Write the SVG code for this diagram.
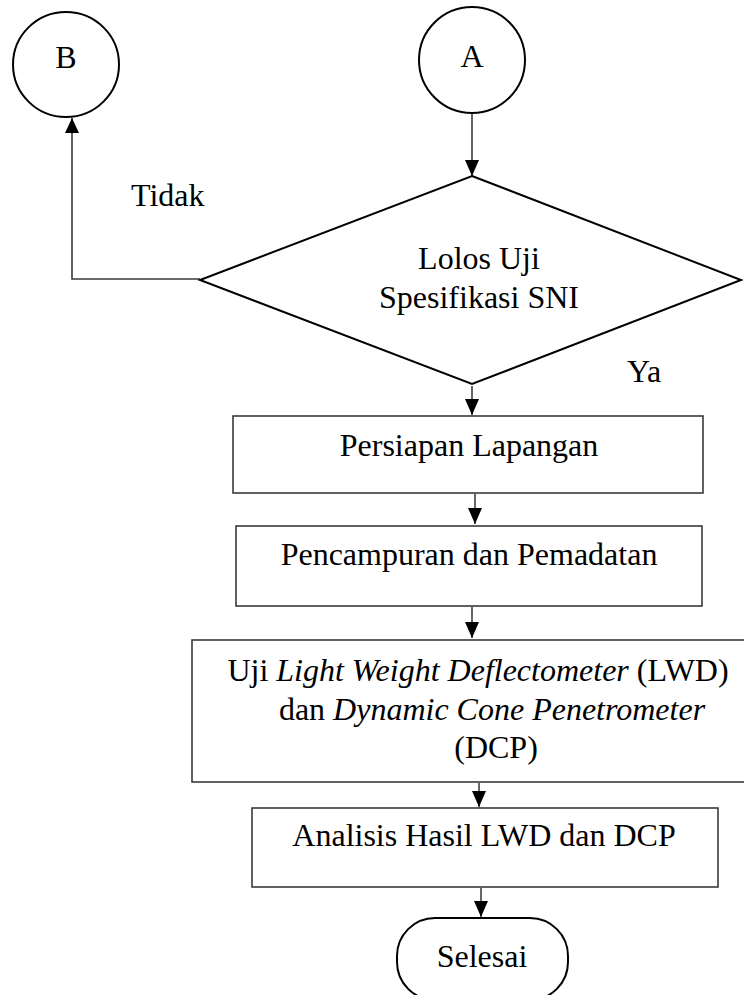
<svg xmlns="http://www.w3.org/2000/svg" width="744" height="995" viewBox="0 0 744 995">
  <style>
    .t { font-family: "Liberation Serif", "Times New Roman", serif; font-size: 32px; fill: #000; }
    .i { font-style: italic; }
    .shape { fill: #fff; stroke: #000; stroke-width: 2; }
    .box { fill: #fff; stroke: #3a3a3a; stroke-width: 1.6; }
    .conn { fill: none; stroke: #000; stroke-width: 1.2; }
    .conn2 { fill: none; stroke: #3a3a3a; stroke-width: 1.6; }
  </style>
  <defs>
    <marker id="arr" markerUnits="userSpaceOnUse" markerWidth="14" markerHeight="16" viewBox="0 0 14 16" refX="7" refY="16" orient="0">
      <path d="M0,0 L14,0 L7,16 Z" fill="#000"/>
    </marker>
    <marker id="arrUp" markerUnits="userSpaceOnUse" markerWidth="14" markerHeight="15" viewBox="0 0 14 15" refX="7" refY="0" orient="0">
      <path d="M7,0 L14,15 L0,15 Z" fill="#000"/>
    </marker>
  </defs>

  <g id="connectors">
    <line class="conn" x1="472" y1="113" x2="472" y2="176" marker-end="url(#arr)"/>
    <polyline class="conn2" points="200,279 72,279 72,118" marker-end="url(#arrUp)"/>
    <line class="conn" x1="472" y1="386" x2="472" y2="415" marker-end="url(#arr)"/>
    <line class="conn" x1="475" y1="494" x2="475" y2="524" marker-end="url(#arr)"/>
    <line class="conn" x1="472" y1="607" x2="472" y2="638" marker-end="url(#arr)"/>
    <line class="conn" x1="479" y1="783" x2="479" y2="807" marker-end="url(#arr)"/>
    <line class="conn" x1="481" y1="888" x2="481" y2="917" marker-end="url(#arr)"/>
  </g>

  <g id="node-B">
    <ellipse class="shape" cx="66" cy="64.5" rx="53" ry="52.5"/>
    <text class="t" x="66" y="68" text-anchor="middle">B</text>
  </g>

  <g id="node-A">
    <ellipse class="shape" cx="472" cy="60" rx="53" ry="53"/>
    <text class="t" x="472" y="67" text-anchor="middle">A</text>
  </g>

  <g id="label-tidak">
    <text class="t" x="131" y="206">Tidak</text>
  </g>

  <g id="node-decision">
    <polygon class="shape" points="472,176 741,280 472,384 200,280"/>
    <text class="t" x="479" y="269" text-anchor="middle">Lolos Uji</text>
    <text class="t" x="479" y="308" text-anchor="middle">Spesifikasi SNI</text>
  </g>

  <g id="label-ya">
    <text class="t" x="627" y="382">Ya</text>
  </g>

  <g id="node-persiapan">
    <rect class="box" x="233" y="416" width="470" height="77"/>
    <text class="t" x="469" y="456" text-anchor="middle">Persiapan Lapangan</text>
  </g>

  <g id="node-pencampuran">
    <rect class="box" x="236" y="526" width="466" height="80"/>
    <text class="t" x="469" y="565" text-anchor="middle">Pencampuran dan Pemadatan</text>
  </g>

  <g id="node-uji">
    <rect class="box" x="192" y="640" width="570" height="142"/>
    <text class="t" x="478" y="681" text-anchor="middle">Uji <tspan class="i">Light Weight Deflectometer</tspan> (LWD)</text>
    <text class="t" x="492" y="720" text-anchor="middle">dan <tspan class="i">Dynamic Cone Penetrometer</tspan></text>
    <text class="t" x="496" y="758" text-anchor="middle">(DCP)</text>
  </g>

  <g id="node-analisis">
    <rect class="box" x="252" y="808" width="466" height="79"/>
    <text class="t" x="484" y="846" text-anchor="middle">Analisis Hasil LWD dan DCP</text>
  </g>

  <g id="node-selesai">
    <rect class="shape" x="397" y="918" width="171" height="82" rx="38" ry="38"/>
    <text class="t" x="482" y="967" text-anchor="middle">Selesai</text>
  </g>
</svg>
